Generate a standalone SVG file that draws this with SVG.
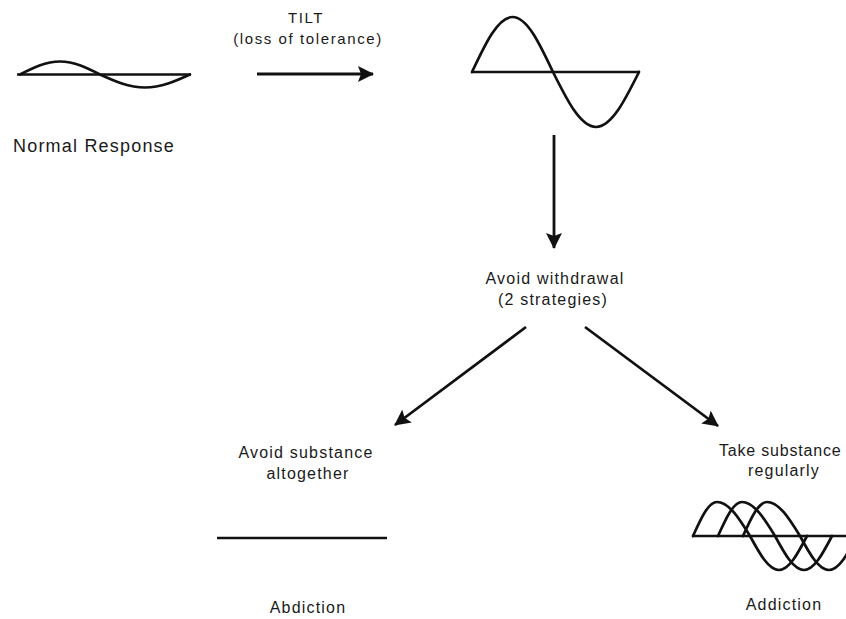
<svg xmlns="http://www.w3.org/2000/svg" xmlns:xlink="http://www.w3.org/1999/xlink" width="846" height="619" viewBox="0 0 846 619">
<style>
  .t { font-family: "Liberation Sans", Arial, sans-serif; fill: #1a1a1a; text-anchor: middle; }
  .s15 { font-size: 15px; letter-spacing: 1.6px; }
  .s16 { font-size: 16px; letter-spacing: 1.2px; }
  .s18 { font-size: 18px; letter-spacing: 1.2px; }
  .wave { fill: none; stroke: #111; stroke-width: 2.7; stroke-linejoin: round; stroke-linecap: round; }
  .axis { fill: none; stroke: #111; stroke-width: 2.6; }
  .conn { fill: none; stroke: #111; stroke-width: 2.8; marker-end: url(#ah); }
</style>
<defs>
  <marker id="ah" markerUnits="userSpaceOnUse" markerWidth="16" markerHeight="16" viewBox="0 0 16 16" refX="15" refY="8" orient="auto">
    <path d="M0,0 L16,8 L0,16 L3,8 z" fill="#111"/>
  </marker>
  <path id="tw" class="wave" d="M693,536 C700.83,518.58 708.31,502 717,502 C728.94,502 739.24,518.58 750,536 C759.46,553.42 768.5,570 779,570 C789.13,570 797.87,553.42 807,536"/>
</defs>
<rect width="846" height="619" fill="#ffffff"/>

<g id="normal-response">
  <path class="axis" d="M17,74.5 H191"/>
  <path class="wave" d="M20,74.5 C33.04,67.84 45.52,61.5 60,61.5 C74.48,61.5 86.96,67.84 100,74.5 C114.67,81.16 128.71,87.5 145,87.5 C161.29,87.5 175.33,81.16 190,74.5"/>
  <text class="t s18" x="94" y="152">Normal Response</text>
</g>

<g id="tilt-label">
  <text class="t s15" x="306" y="23">TILT</text>
  <text class="t s15" x="308" y="44">(loss of tolerance)</text>
</g>

<g id="tilted-response">
  <path class="axis" d="M471,72 H640"/>
  <path class="wave" d="M472,72 C485.21,43.82 497.84,17 512.5,17 C527.16,17 539.79,43.82 553,72 C567.02,100.18 580.44,127 596,127 C611.56,127 624.98,100.18 639,72"/>
</g>

<g id="avoid-withdrawal">
  <text class="t s16" x="555" y="284">Avoid withdrawal</text>
  <text class="t s16" x="553" y="305">(2 strategies)</text>
</g>

<g id="avoid-substance">
  <text class="t s16" x="306" y="458">Avoid substance</text>
  <text class="t s16" x="308" y="479">altogether</text>
  <path class="axis" d="M217,538 H387"/>
  <text class="t s16" x="308" y="613">Abdiction</text>
</g>

<g id="take-substance">
  <text class="t s16" x="719" y="456" style="text-anchor:start; letter-spacing:0.8px">Take substance</text>
  <text class="t s16" x="784" y="476">regularly</text>
  <path class="axis" d="M692,536 H846"/>
  <use xlink:href="#tw"/>
  <use xlink:href="#tw" transform="translate(25,0)"/>
  <use xlink:href="#tw" transform="translate(50,0)"/>
  <text class="t s16" x="784" y="610">Addiction</text>
</g>

<g id="connectors">
  <path class="conn" d="M257,74 L373,74"/>
  <path class="conn" d="M554,135 L554,248"/>
  <path class="conn" d="M526,327 L395,425"/>
  <path class="conn" d="M585,327 L718,426"/>
</g>
</svg>
